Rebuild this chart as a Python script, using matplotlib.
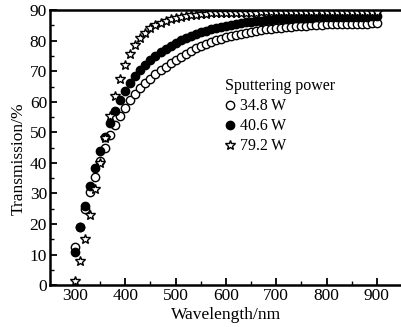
import matplotlib
matplotlib.use("Agg")
import matplotlib.pyplot as plt
import numpy as np

plt.rcParams['font.family'] = ['Liberation Serif', 'DejaVu Serif']

wavelength = np.arange(300, 901, 10)

t_348 = [12.5, 19, 25, 30.5, 35.5, 40.5, 45, 49, 52.5, 55.5,
         58, 60.5, 62.5, 64.5, 66, 67.5, 69, 70.3, 71.5, 72.7,
         73.8, 74.8, 75.8, 76.7, 77.5, 78.2, 78.9, 79.5, 80.1, 80.6,
         81.1, 81.5, 81.9, 82.3, 82.6, 82.9, 83.2, 83.5, 83.7, 83.9,
         84.1, 84.3, 84.5, 84.6, 84.7, 84.8, 84.9, 85.0, 85.1, 85.2,
         85.3, 85.3, 85.4, 85.4, 85.5, 85.5, 85.6, 85.6, 85.6, 85.7, 85.7]

t_406 = [11, 19, 26, 32.5, 38.5, 44, 48.5, 53, 57, 60.5,
         63.5, 66, 68.3, 70.3, 72, 73.6, 75, 76.3, 77.4, 78.4,
         79.3, 80.1, 80.8, 81.5, 82.1, 82.7, 83.2, 83.7, 84.1, 84.5,
         84.9, 85.2, 85.5, 85.8, 86.0, 86.2, 86.4, 86.6, 86.8, 86.9,
         87.0, 87.1, 87.2, 87.3, 87.4, 87.4, 87.5, 87.5, 87.6, 87.6,
         87.7, 87.7, 87.7, 87.8, 87.8, 87.8, 87.9, 87.9, 87.9, 88.0, 88.0]

t_792 = [1.5, 8, 15, 23, 31.5, 40, 48, 55.5, 62, 67.5,
         72, 75.5, 78.5, 80.8, 82.5, 84, 85, 85.8, 86.5, 87,
         87.4, 87.8, 88.1, 88.3, 88.5, 88.7, 88.8, 88.9, 89.0, 89.0,
         89.1, 89.1, 89.1, 89.2, 89.2, 89.2, 89.2, 89.3, 89.3, 89.3,
         89.3, 89.3, 89.3, 89.3, 89.4, 89.4, 89.4, 89.4, 89.4, 89.4,
         89.4, 89.4, 89.4, 89.4, 89.5, 89.5, 89.5, 89.5, 89.5, 89.5, 89.5]

labels = ["34.8\u2009W", "40.6\u2009W", "79.2\u2009W"]

fig = plt.figure(figsize=(4.02, 3.27), dpi=100)
ax = fig.add_axes([0.124, 0.128, 0.876, 0.841])

ax.plot(wavelength, t_348, 'o', ms=6, mfc='white', mec='black', mew=1.0, label=labels[0])
ax.plot(wavelength, t_406, 'o', ms=6, mfc='black', mec='black', mew=1.0, label=labels[1])
ax.plot(wavelength, t_792, '*', ms=7, mfc='white', mec='black', mew=1.0, label=labels[2])

ax.set_xlim(250, 950)
ax.set_ylim(0, 90)
ax.set_xticks(np.arange(300, 901, 100))
ax.set_xticks(np.arange(350, 901, 100), minor=True)
ax.set_yticks(np.arange(0, 91, 10))
ax.set_yticks(np.arange(5, 90, 10), minor=True)
ax.tick_params(which='major', direction='in', length=5, width=1.3, labelsize=12.5, pad=2)
ax.tick_params(which='minor', direction='in', length=3, width=1.0)
ax.spines['right'].set_visible(False)
for s in ['left', 'bottom', 'top']:
    ax.spines[s].set_linewidth(1.8)

ax.set_xlabel("Wavelength/nm", fontsize=12.5, labelpad=2)
ax.set_ylabel("Transmission/%", fontsize=12.5, labelpad=2)
ax.yaxis.label.set_y(0.46)

leg = ax.legend(title="Sputtering power", loc='upper left', bbox_to_anchor=(0.48, 0.775),
                frameon=False, fontsize=11.5, title_fontsize=11.5, alignment='left',
                handlelength=0.6, handletextpad=0.3, labelspacing=0.25, borderaxespad=0)

fig.savefig("out.png", dpi=100)
